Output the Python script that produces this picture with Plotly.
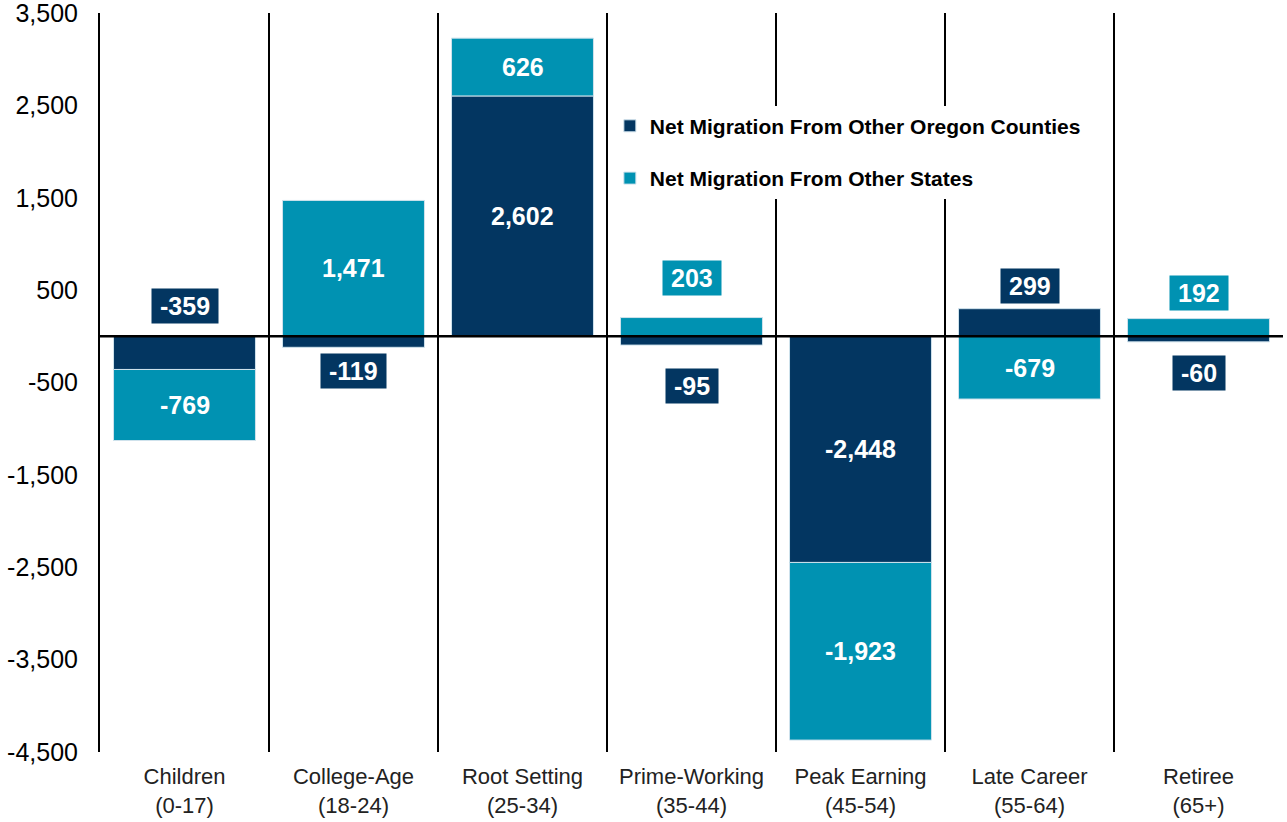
"""Net migration by age group: Oregon counties vs. other states."""

import plotly.graph_objects as go

categories = [
    "Children<br>(0-17)",
    "College-Age<br>(18-24)",
    "Root Setting<br>(25-34)",
    "Prime-Working<br>(35-44)",
    "Peak Earning<br>(45-54)",
    "Late Career<br>(55-64)",
    "Retiree<br>(65+)",
]
oregon_counties = [-359, -119, 2602, -95, -2448, 299, -60]
other_states = [-769, 1471, 626, 203, -1923, -679, 192]
y_ticks = [3500, 2500, 1500, 500, -500, -1500, -2500, -3500, -4500]

DARK = "#033661"
TEAL = "#0092B2"

# pixel offsets from the zero line for the small labels sitting outside the bars
outside_shift = {
    ("oregon", 0): 30, ("oregon", 1): -35, ("oregon", 3): -50,
    ("oregon", 5): 50, ("oregon", 6): -37,
    ("states", 3): 58, ("states", 6): 43,
}

x = list(range(len(categories)))

fig = go.Figure()
fig.add_trace(go.Bar(
    x=x, y=oregon_counties, name="Net Migration From Other Oregon Counties",
    marker=dict(color=DARK, line=dict(color="#cfe2ec", width=1)),
    legendgroup="a", hoverinfo="skip",
))
fig.add_trace(go.Bar(
    x=x, y=other_states, name="Net Migration From Other States",
    marker=dict(color=TEAL, line=dict(color="#cfe2ec", width=1)),
    legendgroup="b", hoverinfo="skip",
))

label_font = dict(family="Liberation Sans, Arial", size=25, color="white")
for i in x:
    d, s = oregon_counties[i], other_states[i]
    base_s = d if (d >= 0) == (s >= 0) else 0
    for key, val, base, color in (("oregon", d, 0, DARK), ("states", s, base_s, TEAL)):
        text = f"<b>{val:,}</b>"
        if (key, i) in outside_shift:
            fig.add_annotation(
                x=i, y=0, text="\u2009" + text + "\u2009", showarrow=False,
                font=label_font, bgcolor=color, borderpad=3,
                yshift=outside_shift[(key, i)],
            )
        else:
            fig.add_annotation(
                x=i, y=base + val / 2, text=text, showarrow=False, font=label_font,
            )

# category separators and zero line
for k in range(len(categories) - 1):
    fig.add_shape(type="line", x0=k + 0.5, x1=k + 0.5, y0=y_ticks[-1], y1=y_ticks[0],
                  line=dict(color="black", width=2), layer="below")
fig.add_shape(type="line", xref="paper", x0=0, x1=1, y0=0, y1=0,
              line=dict(color="black", width=2.5))

fig.update_layout(
    barmode="relative",
    bargap=0.16,
    width=1287, height=822,
    margin=dict(l=100, r=4, t=13, b=70),
    plot_bgcolor="white", paper_bgcolor="white",
    font=dict(family="Liberation Sans, Arial", color="black"),
    showlegend=True,
    legend=dict(
        x=0.431, y=0.8746, xanchor="left", yanchor="top",
        bgcolor="white", traceorder="grouped", tracegroupgap=22,
        font=dict(family="Liberation Sans, Arial", size=21, color="black", weight="bold"),
    ),
    xaxis=dict(
        tickvals=x, ticktext=categories, range=[-0.5, len(categories) - 0.5],
        showline=False, showgrid=False, zeroline=False, ticks="",
        ticklabelstandoff=9, automargin=False,
        tickfont=dict(size=22, color="#222222"),
    ),
    yaxis=dict(
        range=[y_ticks[-1], y_ticks[0]], tickvals=y_ticks,
        ticktext=[f"{v:,}" for v in y_ticks],
        showline=True, linecolor="black", linewidth=2,
        showgrid=False, zeroline=False, ticks="", ticklabelstandoff=15,
        ticklabeloverflow="allow", automargin=False, tickfont=dict(size=25),
    ),
)

# drop the default page margin so the figure sits flush in the window
fig.write_html(
    "out.html",
    config={"displayModeBar": False},
    post_script="document.body.style.margin = '0';",
)
